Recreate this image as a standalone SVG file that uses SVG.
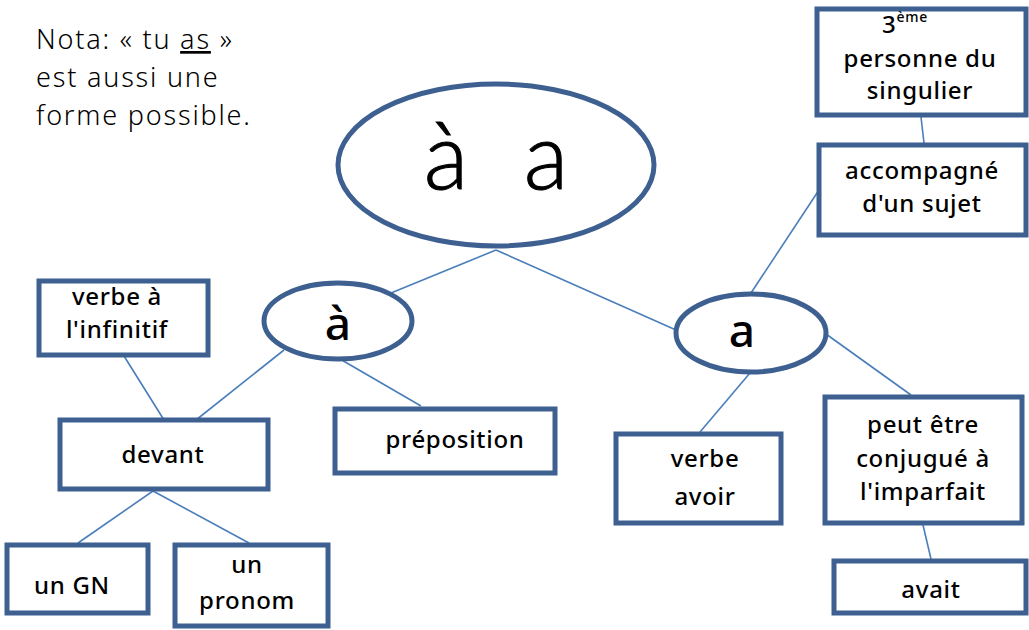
<svg xmlns="http://www.w3.org/2000/svg" width="1029" height="630" viewBox="0 0 1029 630">
<style>
.box{fill:#fff;stroke:#3D6091;stroke-width:5;}
.ell{fill:#fff;stroke:#3D6091;stroke-width:5;}
.con line{stroke:#4A7EBB;stroke-width:1.6;}
text{font-family:"Comic Sans MS","Noto Sans","DejaVu Sans",sans-serif;fill:#000;}
.t{font-size:24px;text-anchor:middle;font-weight:500;letter-spacing:0.7px;}
.nota{font-size:27px;font-weight:300;letter-spacing:1.8px;}
.big{font-family:"Lato","Noto Sans",sans-serif;font-size:92px;font-weight:300;stroke:#000;stroke-width:1;}
.mid{font-size:46px;text-anchor:middle;font-weight:500;}
</style>
<rect width="1029" height="630" fill="#fff"/>
<g id="note">
<text class="nota" x="36" y="49">Nota: « tu <tspan text-decoration="underline">as</tspan> »</text>
<text class="nota" x="36" y="87">est aussi une</text>
<text class="nota" x="36" y="125">forme possible.</text>
</g>
<g id="connectors" class="con">
<line x1="496" y1="250" x2="391" y2="293"/>
<line x1="496" y1="250" x2="676" y2="330"/>
<line x1="284" y1="350" x2="196" y2="420"/>
<line x1="340" y1="359" x2="421" y2="406"/>
<line x1="124" y1="356" x2="164" y2="420"/>
<line x1="153" y1="491" x2="78" y2="543"/>
<line x1="153" y1="491" x2="249" y2="543"/>
<line x1="751" y1="293" x2="819" y2="190"/>
<line x1="921" y1="117" x2="924" y2="143"/>
<line x1="826" y1="334" x2="911" y2="395"/>
<line x1="750" y1="373" x2="700" y2="432"/>
<line x1="923" y1="525" x2="931" y2="559"/>
</g>
<g id="root">
<ellipse class="ell" cx="496" cy="165" rx="158" ry="81"/>
<text class="big" x="446" y="189" text-anchor="middle">à</text>
<text class="big" x="546" y="189" text-anchor="middle">a</text>
</g>
<g id="node-a-grave">
<ellipse class="ell" cx="338" cy="321" rx="74" ry="38"/>
<text class="mid" x="338" y="340">à</text>
</g>
<g id="node-a">
<ellipse class="ell" cx="751" cy="333" rx="75" ry="39"/>
<text class="mid" x="742" y="347">a</text>
</g>
<g id="node-infinitif">
<rect class="box" x="39" y="281" width="169" height="74"/>
<text class="t" x="117" y="305">verbe à</text>
<text class="t" x="117" y="338">l'infinitif</text>
</g>
<g id="node-devant">
<rect class="box" x="60" y="420" width="208" height="69"/>
<text class="t" x="163" y="463">devant</text>
</g>
<g id="node-preposition">
<rect class="box" x="335" y="409" width="220" height="64"/>
<text class="t" x="455" y="448">préposition</text>
</g>
<g id="node-gn">
<rect class="box" x="7" y="545" width="141" height="68"/>
<text class="t" x="72" y="594">un GN</text>
</g>
<g id="node-pronom">
<rect class="box" x="175" y="545" width="153" height="81"/>
<text class="t" x="247" y="573">un</text>
<text class="t" x="247" y="609">pronom</text>
</g>
<g id="node-avoir">
<rect class="box" x="616" y="434" width="165" height="89"/>
<text class="t" x="705" y="467">verbe</text>
<text class="t" x="705" y="505">avoir</text>
</g>
<g id="node-imparfait">
<rect class="box" x="825" y="397" width="197" height="126"/>
<text class="t" x="923" y="433">peut être</text>
<text class="t" x="923" y="467">conjugué à</text>
<text class="t" x="923" y="500">l'imparfait</text>
</g>
<g id="node-avait">
<rect class="box" x="834" y="561" width="192" height="52"/>
<text class="t" x="931" y="598">avait</text>
</g>
<g id="node-personne">
<rect class="box" x="817" y="9" width="209" height="106"/>
<text class="t" x="905" y="33">3<tspan font-size="14" dy="-11">ème</tspan></text>
<text class="t" x="920" y="67">personne du</text>
<text class="t" x="920" y="99">singulier</text>
</g>
<g id="node-sujet">
<rect class="box" x="819" y="145" width="207" height="90"/>
<text class="t" x="922" y="179">accompagné</text>
<text class="t" x="922" y="212">d'un sujet</text>
</g>
</svg>
